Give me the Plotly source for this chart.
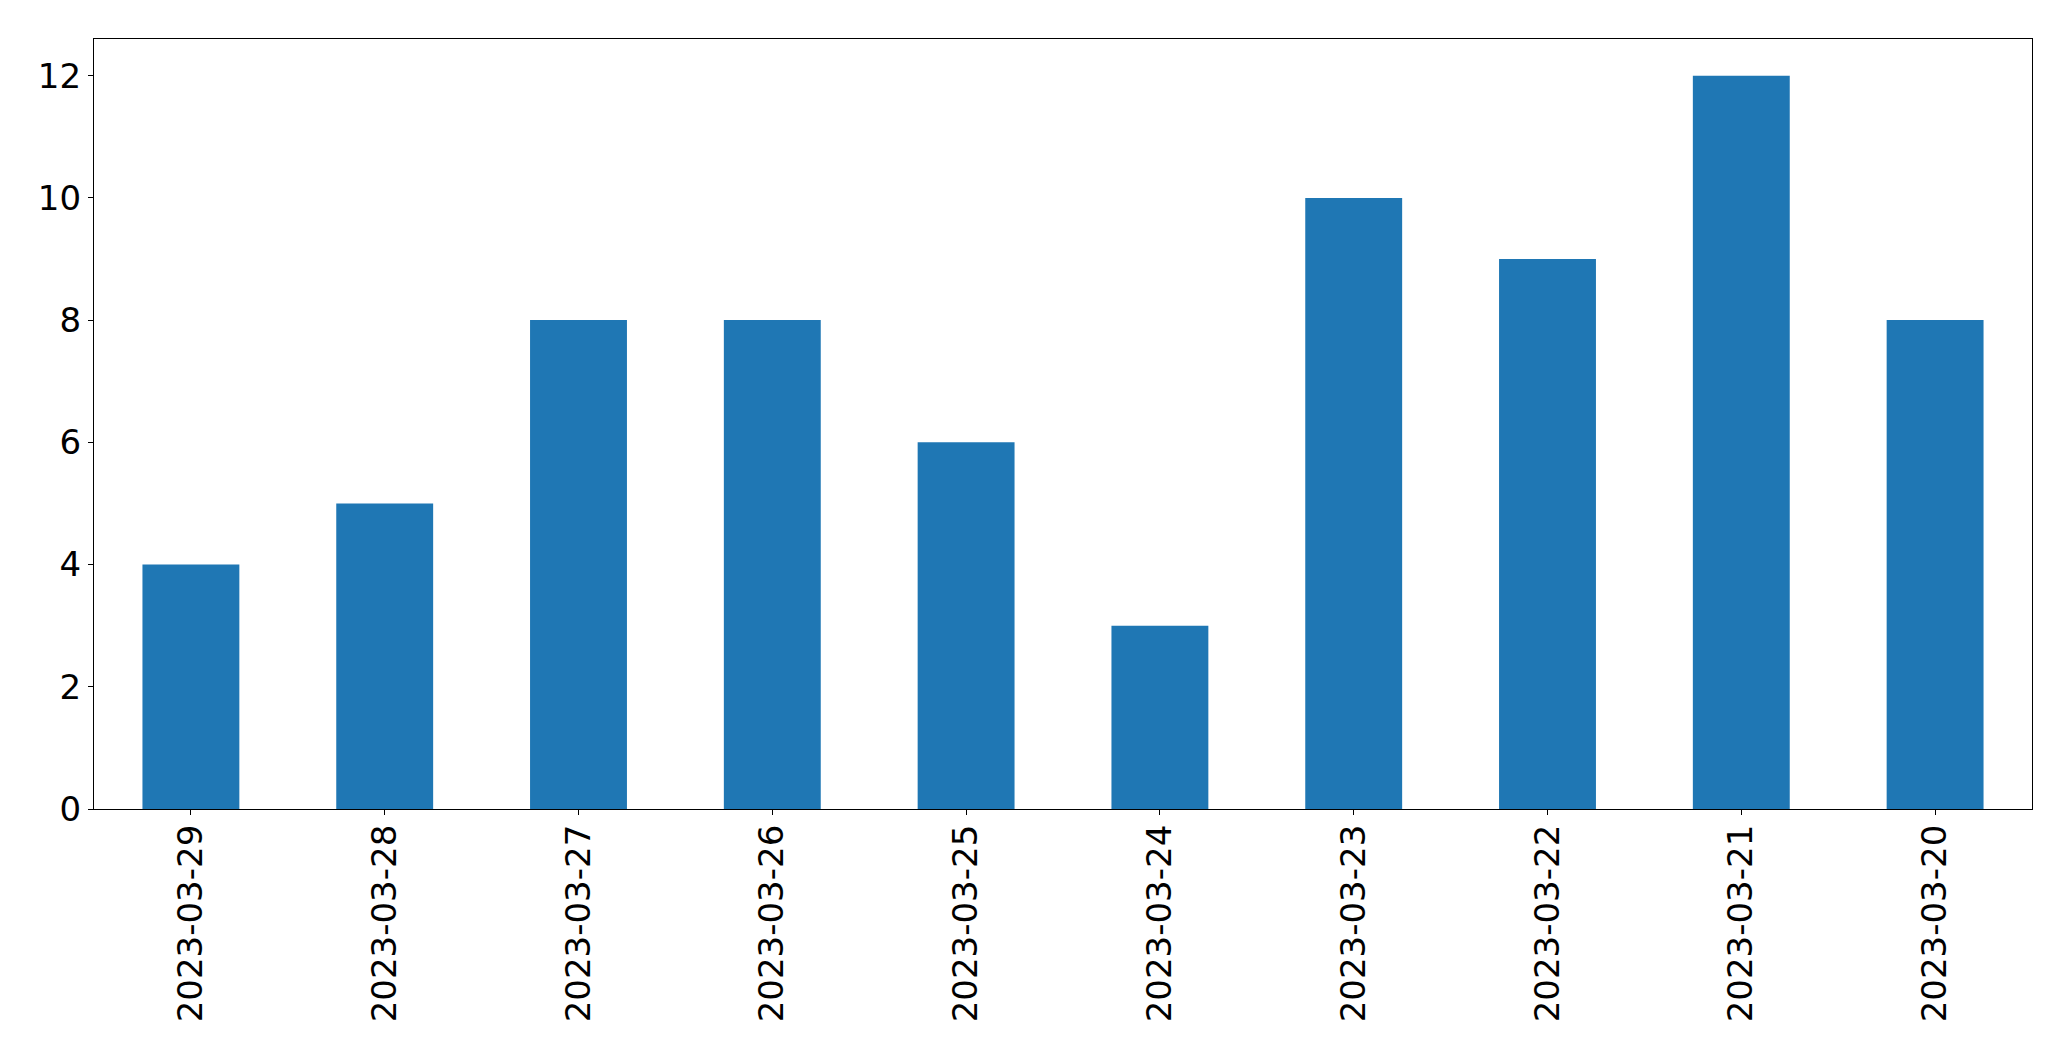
import plotly.graph_objects as go

dates = ["2023-03-29", "2023-03-28", "2023-03-27", "2023-03-26", "2023-03-25",
         "2023-03-24", "2023-03-23", "2023-03-22", "2023-03-21", "2023-03-20"]
counts = [4, 5, 8, 8, 6, 3, 10, 9, 12, 8]
y_ticks = [0, 2, 4, 6, 8, 10, 12]

fig = go.Figure(go.Bar(x=dates, y=counts, width=0.5, marker=dict(color="#1f77b4", line=dict(width=0))))

font = dict(family="DejaVu Sans", size=34, color="black")
fig.update_layout(
    width=2071, height=1061,
    margin=dict(l=94, r=39, t=39, b=252),
    paper_bgcolor="white", plot_bgcolor="white",
    showlegend=False,
    font=font,
)
fig.update_xaxes(
    type="category", range=[-0.5, 9.5],
    tickangle=-90, tickfont=font, ticklabelstandoff=-4,
    showline=True, linecolor="black", linewidth=1.3, mirror=True,
    ticks="outside", ticklen=5, tickwidth=1.2, tickcolor="black",
    showgrid=False, zeroline=False,
)
fig.update_yaxes(
    range=[0, 12.6], tickvals=y_ticks, tickfont=font,
    showline=True, linecolor="black", linewidth=1.3, mirror=True,
    ticks="outside", ticklen=5, tickwidth=1.2, tickcolor="black",
    showgrid=False, zeroline=False,
)
fig.write_html("out.html")
